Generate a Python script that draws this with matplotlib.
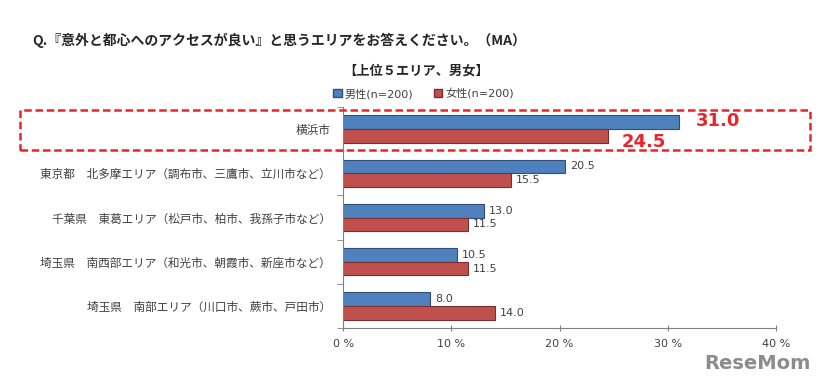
import numpy as np
import matplotlib.pyplot as plt
from matplotlib.patches import Rectangle, Patch

plt.rcParams['font.family'] = ['DejaVu Sans', 'Noto Sans CJK JP']

# data
areas = ['横浜市',
         '東京都　北多摩エリア（調布市、三鷹市、立川市など）',
         '千葉県　東葛エリア（松戸市、柏市、我孫子市など）',
         '埼玉県　南西部エリア（和光市、朝霞市、新座市など）',
         '埼玉県　南部エリア（川口市、蕨市、戸田市）']
male = [31.0, 20.5, 13.0, 10.5, 8.0]
female = [24.5, 15.5, 11.5, 11.5, 14.0]
xticks = [0, 10, 20, 30, 40]

BLUE, BLUE_EDGE = '#4F81BD', '#2F4F7A'
RED, RED_EDGE = '#C0504D', '#7A2F2D'
TXT = '#404040'
CJK = ['Noto Sans CJK JP', 'DejaVu Sans']

fig = plt.figure(figsize=(8.37, 3.85), dpi=100)
ax = fig.add_axes([0.410, 0.148, 0.517, 0.574])

y = np.arange(len(areas))
h = 0.31
ax.barh(y - h / 2, male, height=h, color=BLUE, edgecolor=BLUE_EDGE, linewidth=0.8)
ax.barh(y + h / 2, female, height=h, color=RED, edgecolor=RED_EDGE, linewidth=0.8)

for i in range(len(areas)):
    if i == 0:
        ax.text(male[i] + 1.6, y[i] - h / 2 - 0.02, f'{male[i]:.1f}', va='center', ha='left',
                fontsize=13, fontweight='bold', color='#E8252A')
        ax.text(female[i] + 1.2, y[i] + h / 2 + 0.13, f'{female[i]:.1f}', va='center', ha='left',
                fontsize=13, fontweight='bold', color='#E8252A')
    else:
        ax.text(male[i] + 0.5, y[i] - h / 2, f'{male[i]:.1f}', va='center', ha='left',
                fontsize=8, color=TXT)
        ax.text(female[i] + 0.5, y[i] + h / 2, f'{female[i]:.1f}', va='center', ha='left',
                fontsize=8, color=TXT)

ax.set_xlim(0, 40)
ax.set_ylim(len(areas) - 0.5, -0.5)
ax.set_xticks(xticks)
ax.set_xticklabels([f'{t} %' for t in xticks], fontsize=8, color=TXT)
ax.set_yticks(y)
ax.set_yticklabels(areas, fontsize=8.4, color=TXT, family=CJK)
ax.tick_params(axis='y', length=0, pad=9)
ax.set_yticks(np.arange(-0.5, len(areas)), minor=True)
ax.tick_params(axis='y', which='minor', length=4, direction='out', color='#808080')
ax.tick_params(axis='x', length=4, direction='inout', color='#808080', pad=6)
for s in ['top', 'right']:
    ax.spines[s].set_visible(False)
for s in ['left', 'bottom']:
    ax.spines[s].set_color('#808080')

fig.text(0.039, 0.895, 'Q.『意外と都心へのアクセスが良い』と思うエリアをお答えください。（MA）',
         fontsize=10, fontweight='bold', color='#262626', va='center', family=CJK)
fig.text(0.497, 0.817, '【上位５エリア、男女】', fontsize=9.5, fontweight='bold',
         color='#262626', va='center', ha='center', family=CJK)

handles = [Patch(facecolor=BLUE, edgecolor=BLUE_EDGE, label='男性(n=200)'),
           Patch(facecolor=RED, edgecolor=RED_EDGE, label='女性(n=200)')]
fig.legend(handles=handles, loc='center', bbox_to_anchor=(0.506, 0.757), ncol=2,
           frameon=False, fontsize=8, handlelength=0.8, handleheight=0.8,
           handletextpad=0.3, columnspacing=1.8, labelcolor=TXT)

box = Rectangle((0.024, 0.610), 0.944, 0.104, transform=fig.transFigure,
                fill=False, edgecolor='#E8252A', linewidth=1.8, linestyle=(0, (3, 1.5)))
fig.patches.append(box)

fig.text(0.968, 0.03, 'ReseMom', fontsize=14, fontweight='bold', color='#8C8C8C',
         ha='right', va='bottom')

fig.savefig('out.png', dpi=100)
